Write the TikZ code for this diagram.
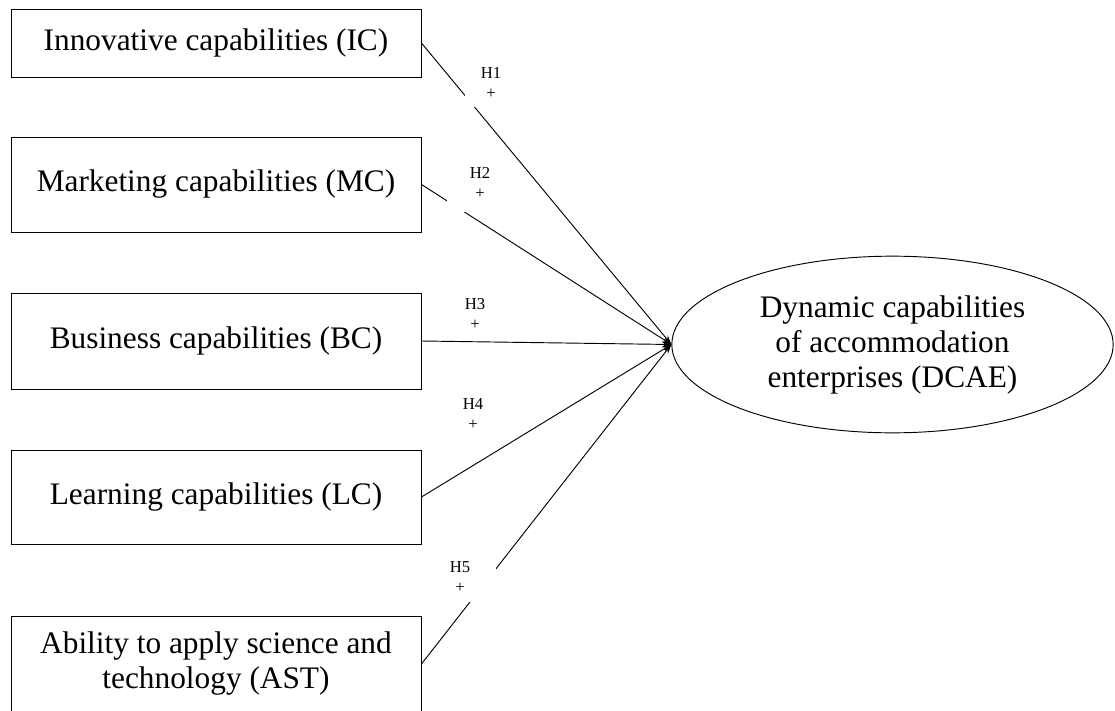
\documentclass[tikz,border=0pt]{standalone}
\usepackage{fontspec}
\setmainfont{Liberation Serif}
\usetikzlibrary{arrows.meta,shapes.geometric}

\begin{document}
\begin{tikzpicture}[x=0.75pt, y=-0.75pt, line width=0.7pt]
	\tikzstyle{capbox}  = [rectangle, draw=black, minimum width=307.5pt, inner sep=0pt, align=center, font=\fontsize{23.5}{26.25}\selectfont]
	\tikzstyle{outcome} = [ellipse, draw=black, minimum width=331pt, minimum height=132.5pt, inner sep=0pt, align=center, font=\fontsize{23.5}{26.25}\selectfont]
	\tikzstyle{hyp}     = [fill=white, inner sep=0pt, align=center, font=\fontsize{12.5}{15.5}\selectfont]
	\tikzstyle{arr}     = [-{Stealth[length=7pt, width=4.5pt]}]

%	\draw[step=50, gray!50] (0,0) grid (1115,711);
	\useasboundingbox (0,0) rectangle (1115,711);

	\node[outcome] (dcae) at (892.5, 344.5) {Dynamic capabilities\\of accommodation\\enterprises (DCAE)};

	\foreach \nm/\y/\h/\txt in {ic/43/68/{Innovative capabilities (IC)}, mc/184.5/95/{Marketing capabilities (MC)}, bc/341/96/{Business capabilities (BC)}, lc/497/94/{Learning capabilities (LC)}, ast/664/95/{Ability to apply science and\\technology (AST)}}
		\node[capbox, minimum height=\h*0.75pt] (\nm) at (216, \y) {\txt};

	\foreach \from in {ic, mc, bc, lc, ast}
		\draw[arr] (\from.east) -- (dcae.west);

	\foreach \nm/\x/\y/\w/\h in {1/491/83/52/48, 2/480/183/66/58, 3/475/314/30/40, 4/473/414/30/40, 5/460/577/72/50}
		\node[hyp, minimum width=\w*0.75pt, minimum height=\h*0.75pt] (h\nm) at (\x, \y) {H\nm\\+};

\end{tikzpicture}
\end{document}
